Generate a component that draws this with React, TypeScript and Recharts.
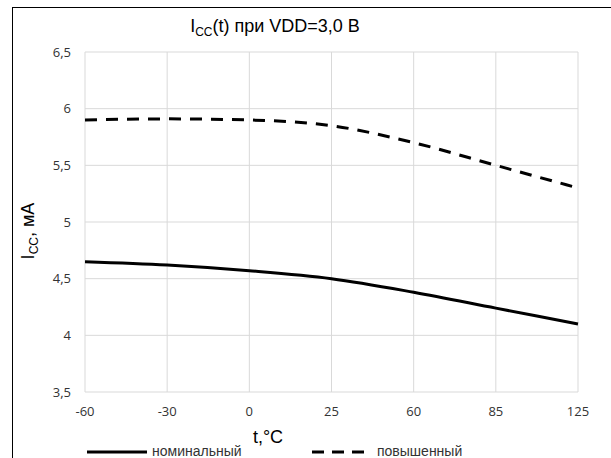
import { CartesianGrid, Line, LineChart, XAxis, YAxis } from 'recharts';

const temps = ['-60', '-30', '0', '25', '60', '85', '125'];
const nominal = [4.65, 4.62, 4.57, 4.5, 4.38, 4.24, 4.1];
const elevated = [5.9, 5.91, 5.9, 5.85, 5.7, 5.5, 5.3];
const yTicks = [3.5, 4, 4.5, 5, 5.5, 6, 6.5];
const seriesNames = ['номинальный', 'повышенный'];

const data = temps.map((t, i) => ({ t, nominal: nominal[i], elevated: elevated[i] }));

const tickStyle = { fontSize: 13, fill: '#333', fontFamily: '"Open Sans", sans-serif' };
const labelFont = '"Liberation Sans", Arial, sans-serif';

const YLabel = () => (
  <text
    x={34}
    y={231}
    transform="rotate(-90 34 231)"
    textAnchor="middle"
    fontSize={18}
    fontFamily={labelFont}
    fill="#000"
  >
    I
    <tspan fontSize={12} dy={4}>CC</tspan>
    <tspan dy={-4}>, мА</tspan>
  </text>
);

const XLabel = () => (
  <text x={268} y={443} textAnchor="middle" fontSize={18} fontFamily={labelFont} fill="#000">
    t,°C
  </text>
);

export default function App() {
  return (
    <div
      style={{
        position: 'fixed',
        left: 0,
        top: 0,
        width: 611,
        height: 458,
        overflow: 'hidden',
        background: '#fff',
      }}
    >
      <div
        style={{
          position: 'absolute',
          left: 12,
          top: 7,
          width: 700,
          height: 500,
          borderLeft: '1px solid #000',
          borderTop: '1px solid #000',
        }}
      />
      <svg style={{ position: 'absolute', left: 0, top: 0 }} width={611} height={50}>
        <text x={275} y={32} textAnchor="middle" fontFamily={labelFont} fontSize={18} fill="#000">
          I
          <tspan fontSize={12} dy={4}>CC</tspan>
          <tspan dy={-4}>(t) при VDD=3,0 В</tspan>
        </text>
      </svg>
      <div style={{ position: 'absolute', left: 0, top: 0 }}>
        <LineChart
          width={611}
          height={458}
          data={data}
          margin={{ top: 52, right: 33, bottom: 36, left: 12 }}
        >
          <CartesianGrid stroke="#d9d9d9" strokeWidth={1} />
          <XAxis
            dataKey="t"
            axisLine={false}
            tickLine={false}
            tick={tickStyle}
            tickMargin={9}
            height={30}
            interval={0}
            label={<XLabel />}
          />
          <YAxis
            type="number"
            domain={[3.5, 6.5]}
            ticks={yTicks}
            axisLine={false}
            tickLine={false}
            tick={tickStyle}
            tickMargin={8}
            width={73}
            tickFormatter={(v: number) => String(v).replace('.', ',')}
            label={<YLabel />}
          />
          <Line
            type="monotone"
            dataKey="nominal"
            name={seriesNames[0]}
            stroke="#000"
            strokeWidth={3}
            dot={false}
            isAnimationActive={false}
          />
          <Line
            type="monotone"
            dataKey="elevated"
            name={seriesNames[1]}
            stroke="#000"
            strokeWidth={3}
            strokeDasharray="12 9"
            dot={false}
            isAnimationActive={false}
          />
        </LineChart>
      </div>
      <div
        style={{
          position: 'absolute',
          left: 0,
          top: 443,
          width: 611,
          height: 16,
          fontFamily: labelFont,
          fontSize: 14,
          color: '#333',
        }}
      >
        <svg style={{ position: 'absolute', left: 87, top: 0 }} width={60} height={16}>
          <line x1={0} y1={9} x2={60} y2={9} stroke="#000" strokeWidth={3} />
        </svg>
        <span style={{ position: 'absolute', left: 152, top: 0 }}>{seriesNames[0]}</span>
        <svg style={{ position: 'absolute', left: 312, top: 0 }} width={52} height={16}>
          <line x1={0} y1={9} x2={52} y2={9} stroke="#000" strokeWidth={3} strokeDasharray="12 8" />
        </svg>
        <span style={{ position: 'absolute', left: 377, top: 0 }}>{seriesNames[1]}</span>
      </div>
    </div>
  );
}
